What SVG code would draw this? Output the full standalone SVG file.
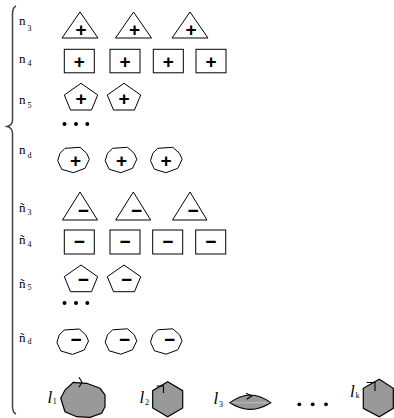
<svg xmlns="http://www.w3.org/2000/svg" width="394" height="418" viewBox="0 0 394 418">
<style>
.s{fill:#fff;stroke:#000;stroke-width:1}
.g{fill:#999;stroke:#000;stroke-width:1.2}
.m{fill:none;stroke:#000;stroke-width:1.1}
.sign{font-family:"Liberation Sans",Arial,sans-serif;font-weight:bold;font-size:19px;text-anchor:middle;fill:#000}
.lab{font-family:"Liberation Serif","Times New Roman",serif;font-size:13px;fill:#000}
.sub{font-size:8px}
.ll{font-family:"Liberation Serif","Times New Roman",serif;font-style:italic;font-size:17px;fill:#000}
.sb{font-family:"Liberation Serif","Times New Roman",serif;font-style:normal;font-size:8px}
.dot{fill:#000}
</style>
<defs>
<polygon id="pent" class="s" points="0,0 -16.7,11.7 -10.5,26.7 10.5,26.7 16.7,11.7"/>
<polygon id="blob" class="s" points="-8.5,-11.7 6.5,-12.7 13.2,-6.7 15.8,-0.7 11.5,8.3 -0.2,12.7 -11.8,9.3 -15.8,0.7 -13.5,-6.7"/>
</defs>

<path id="brace" d="M16,6 Q12.5,7.5 12.5,14 L12.5,120 Q12.5,125 7,126.5 Q12.5,128 12.5,133 L12.5,406 Q12.5,412.5 16,414" fill="none" stroke="#444" stroke-width="1.5"/>

<g id="labels">
<text class="lab" x="19" y="25">n<tspan class="sub" dx="2" dy="5.5">3</tspan></text>
<text class="lab" x="19" y="63">n<tspan class="sub" dx="2" dy="3">4</tspan></text>
<text class="lab" x="19" y="104">n<tspan class="sub" dx="2" dy="3.5">5</tspan></text>
<text class="lab" x="19" y="154">n<tspan class="sub" dx="2" dy="4">d</tspan></text>
<text class="lab" x="19" y="211.5">ñ<tspan class="sub" dx="2" dy="3.5">3</tspan></text>
<text class="lab" x="19" y="244">ñ<tspan class="sub" dx="2" dy="3">4</tspan></text>
<text class="lab" x="19" y="288">ñ<tspan class="sub" dx="2" dy="2">5</tspan></text>
<text class="lab" x="19" y="342">ñ<tspan class="sub" dx="2" dy="1.5">d</tspan></text>
</g>

<g id="row-n3">
<g id="n3-1"><polygon class="s" points="80,12 62,38 98,38"/><text class="sign" x="81" y="35.6">+</text></g>
<g id="n3-2"><polygon class="s" points="133.5,12 115.5,38 151.5,38"/><text class="sign" x="134.5" y="35.6">+</text></g>
<g id="n3-3"><polygon class="s" points="190,12 172,38 208,38"/><text class="sign" x="191" y="35.6">+</text></g>
</g>

<g id="row-n4">
<g id="n4-1"><rect class="s" x="64.3" y="49.3" width="30" height="23.5"/><text class="sign" x="79.3" y="67.6">+</text></g>
<g id="n4-2"><rect class="s" x="110" y="49.3" width="30" height="23.5"/><text class="sign" x="125" y="67.6">+</text></g>
<g id="n4-3"><rect class="s" x="153.3" y="49.3" width="30" height="23.5"/><text class="sign" x="168.3" y="67.6">+</text></g>
<g id="n4-4"><rect class="s" x="196" y="49.3" width="30" height="23.5"/><text class="sign" x="211" y="67.6">+</text></g>
</g>

<g id="row-n5">
<g id="n5-1"><use href="#pent" x="81" y="83.3"/><text class="sign" x="81" y="104.6">+</text></g>
<g id="n5-2"><use href="#pent" x="124" y="83.3"/><text class="sign" x="124" y="104.6">+</text></g>
</g>

<g id="dots-1">
<circle class="dot" cx="64.5" cy="124" r="2"/><circle class="dot" cx="76" cy="124" r="2"/><circle class="dot" cx="87.3" cy="124" r="2"/>
</g>

<g id="row-nd">
<g id="nd-1"><use href="#blob" x="73.5" y="160"/><text class="sign" x="75.5" y="166.6">+</text></g>
<g id="nd-2"><use href="#blob" x="121" y="160"/><text class="sign" x="121.5" y="166.6">+</text></g>
<g id="nd-3"><use href="#blob" x="166.3" y="160"/><text class="sign" x="166" y="166.6">+</text></g>
</g>

<g id="row-nt3">
<g id="nt3-1"><polygon class="s" points="80,192 62.5,220 97.5,220"/><text class="sign" x="83.3" y="216.6">−</text></g>
<g id="nt3-2"><polygon class="s" points="133.3,192 115.7,220 150.7,220"/><text class="sign" x="136.6" y="216.6">−</text></g>
<g id="nt3-3"><polygon class="s" points="190,192 172.5,220 207,220"/><text class="sign" x="193" y="216.6">−</text></g>
</g>

<g id="row-nt4">
<g id="nt4-1"><rect class="s" x="64.3" y="230" width="30" height="24"/><text class="sign" x="79.3" y="248.3">−</text></g>
<g id="nt4-2"><rect class="s" x="110" y="230" width="30" height="24"/><text class="sign" x="125" y="248.3">−</text></g>
<g id="nt4-3"><rect class="s" x="152.7" y="230" width="30" height="24"/><text class="sign" x="167.7" y="248.3">−</text></g>
<g id="nt4-4"><rect class="s" x="195.7" y="230" width="30" height="24"/><text class="sign" x="210.7" y="248.3">−</text></g>
</g>

<g id="row-nt5">
<g id="nt5-1"><use href="#pent" x="81" y="265"/><text class="sign" x="83.3" y="285.9">−</text></g>
<g id="nt5-2"><use href="#pent" x="124" y="265"/><text class="sign" x="126.5" y="285.9">−</text></g>
</g>

<g id="dots-2">
<circle class="dot" cx="64.5" cy="303" r="2"/><circle class="dot" cx="76" cy="303" r="2"/><circle class="dot" cx="87.3" cy="303" r="2"/>
</g>

<g id="row-ntd">
<g id="ntd-1"><use href="#blob" x="72.7" y="341.7"/><text class="sign" x="76" y="346.3">−</text></g>
<g id="ntd-2"><use href="#blob" x="121" y="341.5"/><text class="sign" x="124.5" y="346.3">−</text></g>
<g id="ntd-3"><use href="#blob" x="166.3" y="341.5"/><text class="sign" x="169.5" y="346.3">−</text></g>
</g>

<g id="l1">
<polygon class="g" points="73.3,382.3 86.7,383.3 100,388.3 105,395 105,406.7 101.7,413.3 90,417.3 76.7,416.7 65,411.7 60.7,398.3 65,390"/>
<path class="m" d="M79,377.3 L82,382.3 L79,387.3"/>
<text class="ll" x="47.5" y="402.7">l<tspan class="sb" dx="0.5" dy="1.6">1</tspan></text>
</g>
<g id="l2">
<polygon class="g" points="167.7,381.7 182.7,390.7 182.7,408 167.7,416.7 152.7,408 152.7,390.7"/>
<path class="m" d="M156.5,386 L163.5,386 L163.5,393"/>
<text class="ll" x="139.5" y="403.3">l<tspan class="sb" dx="0.8" dy="1.7">2</tspan></text>
</g>
<g id="l3">
<path class="g" d="M230,402.7 Q250.3,387.3 270.7,402.7 Q250.3,416 230,402.7 Z"/>
<line x1="231" y1="402.7" x2="269.7" y2="402.7" stroke="#c8c8c8" stroke-width="0.8"/>
<path class="m" d="M246,393.3 L251.7,396 L246.7,399.3"/>
<text class="ll" x="213.5" y="404.3">l<tspan class="sb" dx="0.8" dy="2.4">3</tspan></text>
</g>
<g id="dots-3">
<circle class="dot" cx="299.3" cy="404.3" r="1.9"/><circle class="dot" cx="312.7" cy="404.3" r="1.9"/><circle class="dot" cx="326" cy="404.3" r="1.9"/>
</g>
<g id="lk">
<polygon class="g" points="379.3,379.3 393.3,388.3 393.3,408.3 379.3,416.7 363.3,408.3 363.3,388.3"/>
<path class="m" d="M366.5,382.5 L375,382.5 L375,391"/>
<text class="ll" x="350" y="396.7">l<tspan class="sb" dx="0.8" dy="1.6">k</tspan></text>
</g>
</svg>
